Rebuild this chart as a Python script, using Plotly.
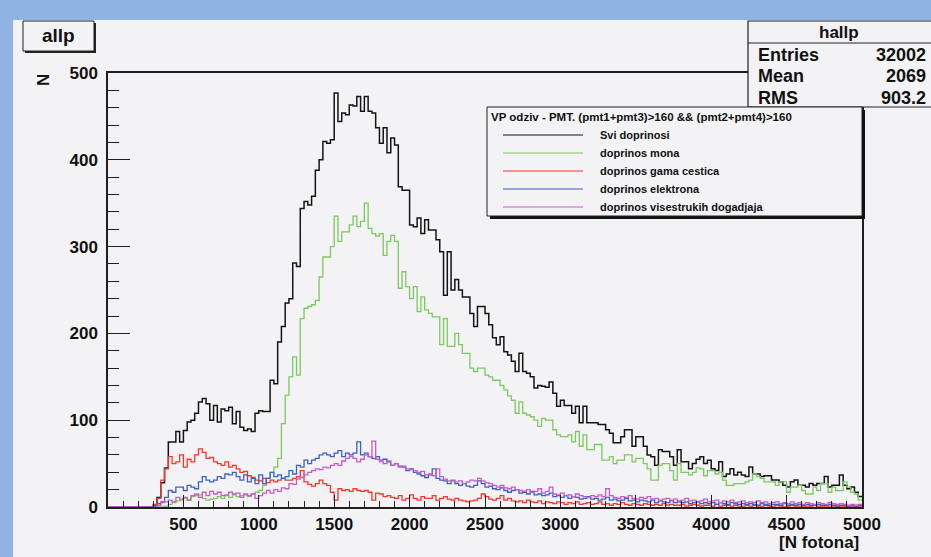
import numpy as np
import plotly.graph_objects as go

# ---------------- data ----------------
BIN_WIDTH = 25
X_MIN, X_MAX = 0, 5000
edges = np.arange(X_MIN, X_MAX + BIN_WIDTH, BIN_WIDTH)  # 201 bin edges

svi = [
    0, 0, 0, 0, 0, 0, 0, 0, 0, 0,
    0, 0, 2, 11, 28, 45, 75, 75, 87, 75,
    88, 98, 100, 108, 121, 125, 119, 100, 117, 98,
    113, 111, 115, 96, 110, 92, 88, 90, 87, 108,
    111, 110, 110, 146, 142, 190, 208, 235, 240, 281,
    277, 344, 352, 348, 358, 388, 400, 421, 419, 423,
    477, 444, 454, 452, 463, 462, 473, 456, 473, 456,
    454, 437, 419, 437, 408, 425, 417, 369, 365, 365,
    325, 323, 333, 315, 331, 319, 319, 308, 294, 244,
    294, 250, 262, 250, 242, 242, 223, 208, 231, 231,
    223, 210, 195, 187, 196, 179, 175, 168, 156, 177,
    156, 154, 150, 137, 140, 139, 138, 144, 131, 116,
    123, 117, 117, 108, 116, 97, 116, 97, 97, 97,
    95, 95, 89, 85, 74, 74, 81, 89, 89, 70,
    81, 81, 70, 60, 58, 48, 66, 64, 64, 58,
    48, 66, 52, 52, 44, 50, 55, 58, 50, 54,
    44, 42, 52, 35, 38, 44, 37, 40, 37, 35,
    46, 38, 38, 35, 36, 36, 31, 31, 29, 25,
    23, 29, 31, 25, 25, 23, 27, 25, 27, 27,
    35, 23, 25, 25, 37, 25, 21, 23, 17, 12,
]

mona = [
    0, 0, 0, 0, 0, 0, 0, 0, 0, 0,
    0, 0, 0, 0, 0, 1, 3, 5, 7, 8,
    10, 8, 12, 13, 14, 10, 8, 9, 10, 12,
    10, 13, 11, 14, 12, 13, 14, 12, 15, 17,
    19, 25, 33, 40, 46, 56, 96, 129, 150, 173,
    152, 217, 229, 231, 233, 238, 265, 288, 288, 300,
    335, 306, 317, 317, 325, 335, 323, 329, 350, 321,
    315, 312, 315, 290, 306, 313, 306, 252, 271, 254,
    240, 254, 225, 242, 227, 223, 219, 219, 187, 217,
    185, 185, 200, 187, 177, 177, 160, 156, 160, 160,
    152, 150, 146, 146, 140, 135, 128, 123, 108, 121,
    108, 106, 104, 100, 93, 102, 100, 100, 89, 83,
    81, 81, 83, 75, 87, 70, 83, 66, 66, 72,
    72, 54, 54, 58, 50, 54, 54, 60, 60, 52,
    56, 56, 50, 44, 31, 31, 48, 50, 50, 42,
    31, 50, 40, 40, 37, 40, 45, 44, 36, 42,
    42, 38, 40, 31, 25, 25, 27, 27, 27, 29,
    31, 38, 35, 33, 29, 29, 29, 25, 29, 29,
    17, 23, 23, 25, 19, 15, 15, 23, 19, 27,
    27, 17, 23, 19, 19, 29, 23, 17, 15, 8,
]

gama = [
    0, 0, 0, 0, 0, 0, 0, 0, 0, 0,
    0, 0, 3, 10, 31, 44, 58, 50, 52, 60,
    46, 55, 52, 60, 67, 63, 56, 57, 52, 50,
    48, 52, 46, 48, 44, 40, 41, 36, 34, 31,
    30, 33, 28, 31, 29, 31, 33, 31, 31, 33,
    35, 42, 29, 26, 24, 27, 31, 27, 25, 17,
    8, 21, 19, 20, 18, 21, 19, 18, 19, 17,
    8, 16, 15, 12, 13, 11, 10, 13, 8, 10,
    14, 10, 8, 12, 10, 10, 13, 8, 10, 12,
    9, 8, 10, 8, 7, 6, 7, 8, 10, 15,
    12, 9, 8, 10, 13, 8, 10, 7, 6, 7,
    5, 8, 6, 5, 7, 4, 6, 5, 4, 6,
    5, 3, 5, 4, 6, 3, 4, 5, 3, 4,
    6, 3, 4, 2, 4, 3, 5, 3, 2, 4,
    3, 2, 4, 3, 2, 3, 2, 4, 2, 3,
    2, 2, 3, 1, 2, 3, 2, 1, 2, 2,
    1, 3, 1, 2, 2, 1, 2, 1, 1, 2,
    1, 2, 1, 1, 2, 1, 1, 2, 1, 0,
    1, 2, 1, 1, 0, 1, 1, 2, 1, 0,
    1, 1, 0, 1, 1, 0, 1, 1, 0, 1,
]

elektron = [
    0, 0, 0, 0, 0, 0, 0, 0, 0, 0,
    0, 0, 0, 4, 6, 11, 19, 17, 23, 23,
    19, 25, 23, 21, 29, 35, 31, 29, 31, 35,
    33, 38, 37, 40, 35, 31, 37, 29, 33, 27,
    37, 27, 33, 40, 35, 37, 33, 35, 42, 38,
    48, 46, 54, 50, 54, 56, 60, 62, 60, 58,
    62, 65, 58, 62, 60, 62, 75, 60, 62, 58,
    56, 58, 54, 55, 52, 48, 50, 47, 46, 42,
    44, 40, 38, 36, 34, 37, 44, 33, 31, 30,
    27, 30, 27, 25, 27, 24, 23, 25, 30, 27,
    23, 24, 21, 20, 22, 19, 17, 19, 20, 16,
    17, 15, 18, 14, 15, 13, 14, 16, 12, 13,
    11, 13, 10, 12, 11, 9, 10, 12, 9, 10,
    8, 9, 11, 8, 9, 7, 8, 10, 7, 8,
    6, 8, 7, 6, 8, 5, 7, 6, 5, 7,
    5, 6, 5, 6, 4, 5, 6, 4, 5, 4,
    5, 3, 5, 4, 3, 5, 4, 3, 4, 3,
    4, 3, 2, 4, 3, 2, 3, 3, 2, 4,
    2, 3, 2, 3, 2, 3, 2, 2, 3, 2,
    2, 3, 2, 1, 2, 2, 1, 2, 1, 2,
]

visestruki = [
    0, 0, 0, 0, 0, 0, 0, 0, 0, 0,
    0, 0, 1, 2, 5, 6, 8, 6, 11, 9,
    11, 8, 13, 15, 11, 17, 13, 18, 15, 17,
    13, 14, 17, 15, 16, 11, 15, 13, 15, 10,
    13, 16, 19, 16, 20, 18, 22, 21, 27, 26,
    32, 34, 37, 40, 42, 44, 43, 46, 45, 48,
    50, 48, 53, 56, 58, 56, 52, 55, 60, 58,
    76, 55, 52, 50, 53, 48, 50, 46, 47, 44,
    43, 42, 40, 41, 37, 38, 36, 44, 35, 32,
    30, 31, 29, 30, 27, 29, 31, 30, 33, 30,
    28, 27, 25, 23, 25, 22, 21, 23, 20, 19,
    18, 20, 17, 18, 21, 16, 18, 23, 15, 14,
    16, 13, 14, 12, 15, 13, 12, 11, 13, 12,
    14, 12, 21, 13, 11, 10, 12, 11, 13, 10,
    9, 11, 10, 12, 9, 10, 8, 9, 10, 8,
    9, 7, 8, 10, 7, 8, 6, 7, 9, 6,
    7, 8, 5, 7, 6, 8, 5, 6, 7, 5,
    6, 5, 7, 5, 6, 4, 5, 6, 4, 5,
    4, 6, 4, 5, 3, 5, 4, 3, 5, 4,
    3, 5, 4, 3, 4, 3, 2, 3, 2, 3,
]

series_names = ["Svi doprinosi", "doprinos mona", "doprinos gama cestica",
                "doprinos elektrona", "doprinos visestrukih dogadjaja"]
series_values = [svi, mona, gama, elektron, visestruki]
series_colors = ["#141414", "#7cc95e", "#f23a2b", "#3f5fc6", "#c65ccb"]
series_widths = [1.5, 1.3, 1.3, 1.3, 1.3]

x_tick_vals = [500, 1000, 1500, 2000, 2500, 3000, 3500, 4000, 4500, 5000]
y_tick_vals = [0, 100, 200, 300, 400, 500]

hist_title = "allp"
stats_title = "hallp"
stats_rows = [("Entries", "32002"), ("Mean", "2069"), ("RMS", "903.2")]
legend_header = "VP odziv - PMT. (pmt1+pmt3)>160 && (pmt2+pmt4)>160"
x_title = "[N fotona]"
y_title = "N"

# ---------------- layout geometry (pixels) ----------------
W, H = 931, 557
L, R, T, B = 108, 69, 73, 50
PW, PH = W - L - R, H - T - B

def px(x):
    return (x - L) / PW

def py(y):
    return 1 - (y - T) / PH

PANEL = "#f3f3f5"
BLUE = "#8fb4e3"
FRAME = "#202020"
FONT = "Liberation Sans"

fig = go.Figure()

for name, vals, col, lw in zip(series_names, series_values, series_colors, series_widths):
    yy = list(vals) + [vals[-1]]
    fig.add_trace(go.Scatter(
        x=edges, y=yy, mode="lines", line=dict(color=col, width=lw, shape="hv"),
        name=name, showlegend=False, hoverinfo="skip"))

shapes = []
# background bands
shapes.append(dict(type="rect", xref="paper", yref="paper", x0=px(-5), x1=px(W + 5),
                   y0=py(-5), y1=py(20), fillcolor=BLUE, line=dict(width=0), layer="below"))
shapes.append(dict(type="rect", xref="paper", yref="paper", x0=px(-5), x1=px(13),
                   y0=py(-5), y1=py(H + 5), fillcolor=BLUE, line=dict(width=0), layer="below"))

# title box
shapes.append(dict(type="rect", xref="paper", yref="paper", x0=px(25), x1=px(96),
                   y0=py(23), y1=py(53), fillcolor="#222222", line=dict(width=0)))
shapes.append(dict(type="rect", xref="paper", yref="paper", x0=px(23), x1=px(94),
                   y0=py(21), y1=py(51), fillcolor=PANEL, line=dict(color="#222222", width=1)))

# stats box
shapes.append(dict(type="rect", xref="paper", yref="paper", x0=px(748), x1=px(W + 5),
                   y0=py(21), y1=py(107), fillcolor=PANEL, line=dict(color="#222222", width=1.2)))
shapes.append(dict(type="line", xref="paper", yref="paper", x0=px(748), x1=px(W + 5),
                   y0=py(43), y1=py(43), line=dict(color="#222222", width=1.2)))

# legend box with shadow
shapes.append(dict(type="rect", xref="paper", yref="paper", x0=px(490), x1=px(865),
                   y0=py(110), y1=py(219), fillcolor="#111111", line=dict(width=0)))
shapes.append(dict(type="rect", xref="paper", yref="paper", x0=px(487), x1=px(862),
                   y0=py(107), y1=py(216), fillcolor=PANEL, line=dict(color="#222222", width=1)))

annotations = []
LEG_Y0, LEG_DY = 135, 18
for i, (name, col) in enumerate(zip(series_names, series_colors)):
    yl = LEG_Y0 + i * LEG_DY
    shapes.append(dict(type="line", xref="paper", yref="paper", x0=px(503), x1=px(583),
                       y0=py(yl), y1=py(yl), line=dict(color=col, width=1.2)))
    annotations.append(dict(xref="paper", yref="paper", x=px(598), y=py(yl), text=f"<b>{name}</b>",
                            showarrow=False, xanchor="left", yanchor="middle",
                            font=dict(family=FONT, size=11, color="#111")))

annotations.append(dict(xref="paper", yref="paper", x=px(489), y=py(116.5), text=f"<b>{legend_header}</b>",
                        showarrow=False, xanchor="left", yanchor="middle",
                        font=dict(family=FONT, size=11.5, color="#111")))

annotations.append(dict(xref="paper", yref="paper", x=px(58.5), y=py(36), text=f"<b>{hist_title}</b>",
                        showarrow=False, xanchor="center", yanchor="middle",
                        font=dict(family=FONT, size=19, color="#111")))

annotations.append(dict(xref="paper", yref="paper", x=px(839), y=py(32), text=f"<b>{stats_title}</b>",
                        showarrow=False, xanchor="center", yanchor="middle",
                        font=dict(family=FONT, size=17, color="#111")))
for i, (lab, val) in enumerate(stats_rows):
    ys = 54.5 + i * 21.7
    annotations.append(dict(xref="paper", yref="paper", x=px(756), y=py(ys), text=f"<b>{lab}</b>",
                            showarrow=False, xanchor="left", yanchor="middle",
                            font=dict(family=FONT, size=18, color="#111")))
    annotations.append(dict(xref="paper", yref="paper", x=px(928), y=py(ys), text=f"<b>{val}</b>",
                            showarrow=False, xanchor="right", yanchor="middle",
                            font=dict(family=FONT, size=18, color="#111")))

annotations.append(dict(xref="paper", yref="paper", x=px(861), y=py(542), text=f"<b>{x_title}</b>",
                        showarrow=False, xanchor="right", yanchor="middle",
                        font=dict(family=FONT, size=17, color="#111")))
annotations.append(dict(xref="paper", yref="paper", x=px(43), y=py(80), text=f"<b>{y_title}</b>",
                        showarrow=False, xanchor="center", yanchor="middle", textangle=-90,
                        font=dict(family=FONT, size=17, color="#111")))

fig.update_layout(
    width=W, height=H,
    margin=dict(l=L, r=R, t=T, b=B, pad=0),
    paper_bgcolor=PANEL, plot_bgcolor=PANEL,
    showlegend=False,
    shapes=shapes, annotations=annotations,
    xaxis=dict(range=[X_MIN, X_MAX], tickmode="array", tickvals=x_tick_vals,
               ticks="inside", ticklen=12, tickwidth=1.2, tickcolor=FRAME,
               minor=dict(ticks="inside", dtick=100, tick0=0, ticklen=6, tickwidth=1.2, tickcolor=FRAME,
                          showgrid=False),
               showline=True, linecolor=FRAME, linewidth=1.8, mirror=True,
               showgrid=False, zeroline=False, ticklabelstandoff=1,
               tickfont=dict(family=FONT, size=17, color="#111", weight="bold")),
    yaxis=dict(range=[0, 500], tickmode="array", tickvals=y_tick_vals,
               ticks="inside", ticklen=22, tickwidth=1.2, tickcolor=FRAME,
               minor=dict(ticks="inside", dtick=20, tick0=0, ticklen=11, tickwidth=1.2, tickcolor=FRAME,
                          showgrid=False),
               showline=True, linecolor=FRAME, linewidth=1.5, mirror=True,
               showgrid=False, zeroline=False, ticklabelstandoff=5,
               tickfont=dict(family=FONT, size=17, color="#111", weight="bold")),
)

fig.write_html("out.html")
